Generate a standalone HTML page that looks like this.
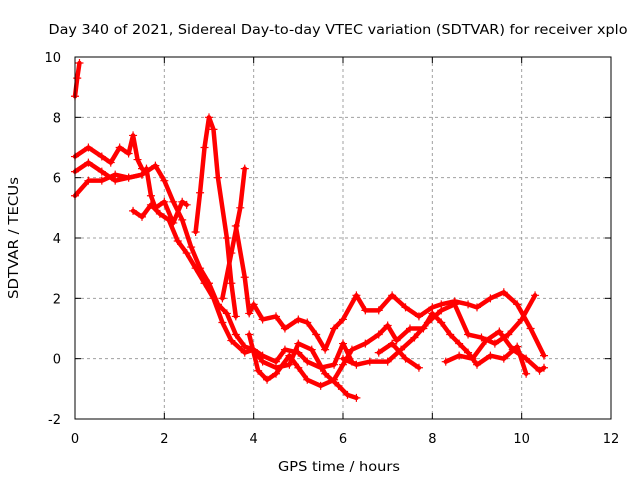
<!DOCTYPE html>
<html><head><meta charset="utf-8"><style>
body{margin:0;background:#fff}
svg text{font-family:"DejaVu Sans","Liberation Sans",sans-serif;font-size:13px;fill:#000}
</style></head><body>
<svg id="c" width="640" height="480">
<rect width="640" height="480" fill="#fff"/>
<text x="338" y="34" text-anchor="middle" textLength="579" lengthAdjust="spacingAndGlyphs">Day 340 of 2021, Sidereal Day-to-day VTEC variation (SDTVAR) for receiver xplo</text>
<text x="339" y="471" text-anchor="middle" textLength="122" lengthAdjust="spacingAndGlyphs">GPS time / hours</text>
<text transform="translate(18,238) rotate(-90)" text-anchor="middle" textLength="122" lengthAdjust="spacingAndGlyphs">SDTVAR / TECUs</text>
<g id="grid"></g><g id="ticks"></g><g id="series"></g>
<rect x="75" y="57" width="536" height="362" fill="none" stroke="#000" stroke-width="1"/>
</svg>
<script>
const xTicks=[0,2,4,6,8,10,12];
const yTicks=[-2,0,2,4,6,8,10];
const s1h=[0,0.3,0.6,0.8,1.0,1.2,1.3,1.4,1.5];
const s1v=[6.7,7.0,6.7,6.5,7.0,6.8,7.4,6.6,6.3];
const s2h=[0,0.3,0.6,0.9,1.2,1.5,1.8,2.0,2.2,2.4,2.6,2.8,3.0,3.2,3.4,3.6,3.8,4.0,4.2,4.5,4.8,5.0,5.3,5.6,5.9,6.1,6.3];
const s2v=[6.2,6.5,6.2,5.9,6.0,6.1,6.4,5.9,5.2,4.6,3.7,3.0,2.5,1.8,1.5,0.8,0.4,0.3,-0.1,-0.3,-0.2,0.5,0.3,-0.5,-0.9,-1.2,-1.3];
const s3h=[0,0.3,0.6,0.9,1.2,1.5,1.6,1.7,1.8,2.0,2.2,2.4,2.5];
const s3v=[5.4,5.9,5.9,6.1,6.0,6.1,6.3,5.4,5.0,5.2,4.5,5.2,5.1];
const s4h=[1.3,1.5,1.7,1.9,2.1,2.3,2.5,2.7,2.9,3.1,3.3,3.5,3.8,4.0,4.2,4.5,4.7,5.0,5.2,5.5,5.8,6.0,6.2];
const s4v=[4.9,4.7,5.1,4.8,4.6,3.9,3.5,3.0,2.5,2.0,1.2,0.6,0.2,0.3,0.1,-0.1,0.3,0.2,-0.1,-0.3,-0.2,0.5,-0.1];
const s5h=[3.6,3.8,3.9,4.0,4.2,4.5,4.7,5.0,5.2,5.4,5.6,5.8,6.0,6.3,6.5,6.8,7.1,7.4,7.7,8.0,8.2,8.5,8.8,9.0,9.3,9.6,9.9,10.2,10.5];
const s5v=[4.4,2.7,1.5,1.8,1.3,1.4,1.0,1.3,1.2,0.8,0.3,1.0,1.3,2.1,1.6,1.6,2.1,1.7,1.4,1.7,1.8,1.9,1.8,1.7,2.0,2.2,1.8,1.0,0.1];
const s6h=[3.9,4.1,4.3,4.5,4.8,5.0,5.2,5.5,5.8,6.0,6.2,6.5,6.8,7.0,7.2,7.5,7.8,8.0,8.2,8.4,8.6,8.8,9.0,9.3,9.6,9.9,10.1];
const s6v=[0.8,-0.4,-0.7,-0.5,0.1,-0.3,-0.7,-0.9,-0.7,-0.2,0.3,0.5,0.8,1.1,0.6,1.0,1.0,1.5,1.2,0.8,0.5,0.2,-0.2,0.1,0.0,0.4,-0.5];
const s7h=[6.0,6.3,6.6,7.0,7.3,7.6,7.9,8.2,8.5,8.8,9.1,9.4,9.7,10.0,10.3];
const s7v=[0.0,-0.2,-0.1,-0.1,0.3,0.7,1.2,1.6,1.8,0.8,0.7,0.5,0.8,1.3,2.1];
const s8h=[6.8,7.1,7.4,7.7];
const s8v=[0.2,0.5,0.0,-0.3];
const s9h=[8.3,8.6,8.9,9.2,9.5,9.8,10.1,10.4,10.5];
const s9v=[-0.1,0.1,0.0,0.6,0.9,0.3,0.0,-0.4,-0.3];
const s10h=[0,0.05,0.1];
const s10v=[8.7,9.3,9.8];
const s11h=[2.7,2.8,2.9,3.0,3.1,3.2,3.4,3.5,3.6];
const s11v=[4.2,5.5,7.0,8.0,7.6,6.0,4.0,2.5,1.4];
const s12h=[3.3,3.5,3.7,3.8];
const s12v=[2.0,3.5,5.0,6.3];
const allH=[s1h,s2h,s3h,s4h,s5h,s6h,s7h,s8h,s9h,s10h,s11h,s12h];
const allV=[s1v,s2v,s3v,s4v,s5v,s6v,s7v,s8v,s9v,s10v,s11v,s12v];
const X=h=>75+h*(536/12), Y=v=>419-(v+2)*(362/12);
const NS="http://www.w3.org/2000/svg";
function mk(t,a,p){const e=document.createElementNS(NS,t);for(const k in a)e.setAttribute(k,a[k]);p.appendChild(e);return e;}
const g=document.getElementById('grid'),tk=document.getElementById('ticks'),sg=document.getElementById('series');
xTicks.forEach(t=>{
 if(t>0&&t<12){const l=mk('line',{x1:X(t),x2:X(t),y1:57,y2:419,stroke:'#a0a0a0','stroke-dasharray':'3,3'},g);
 }
 mk('line',{x1:X(t),x2:X(t),y1:419,y2:413,stroke:'#000'},tk);mk('line',{x1:X(t),x2:X(t),y1:57,y2:63,stroke:'#000'},tk);
 const tx=mk('text',{x:X(t),y:443,'text-anchor':'middle'},tk);tx.textContent=t;
 
});
yTicks.forEach(t=>{
 if(t>-2&&t<10){const l=mk('line',{x1:75,x2:611,y1:Y(t),y2:Y(t),stroke:'#a0a0a0','stroke-dasharray':'3,3'},g);
 }
 mk('line',{x1:75,x2:81,y1:Y(t),y2:Y(t),stroke:'#000'},tk);mk('line',{x1:605,x2:611,y1:Y(t),y2:Y(t),stroke:'#000'},tk);
 const tx=mk('text',{x:61,y:Y(t)+5,'text-anchor':'end'},tk);tx.textContent=t;
 
});
allH.forEach((hs,i)=>{
 const vs=allV[i];
 const pl=mk('polyline',{points:hs.map((h,j)=>X(h)+','+Y(vs[j])).join(' '),fill:'none',stroke:'#f00','stroke-width':4.5,'stroke-linejoin':'round','stroke-linecap':'round'},sg);
 
 
 hs.forEach((h,j)=>{
  const x=X(h),y=Y(vs[j]);
  const p=mk('path',{d:`M${x-4},${y}H${x+4}M${x},${y-4}V${y+4}`,stroke:'#f00','stroke-width':1.2},sg);
  
  
 });
});
</script>
</body></html>
